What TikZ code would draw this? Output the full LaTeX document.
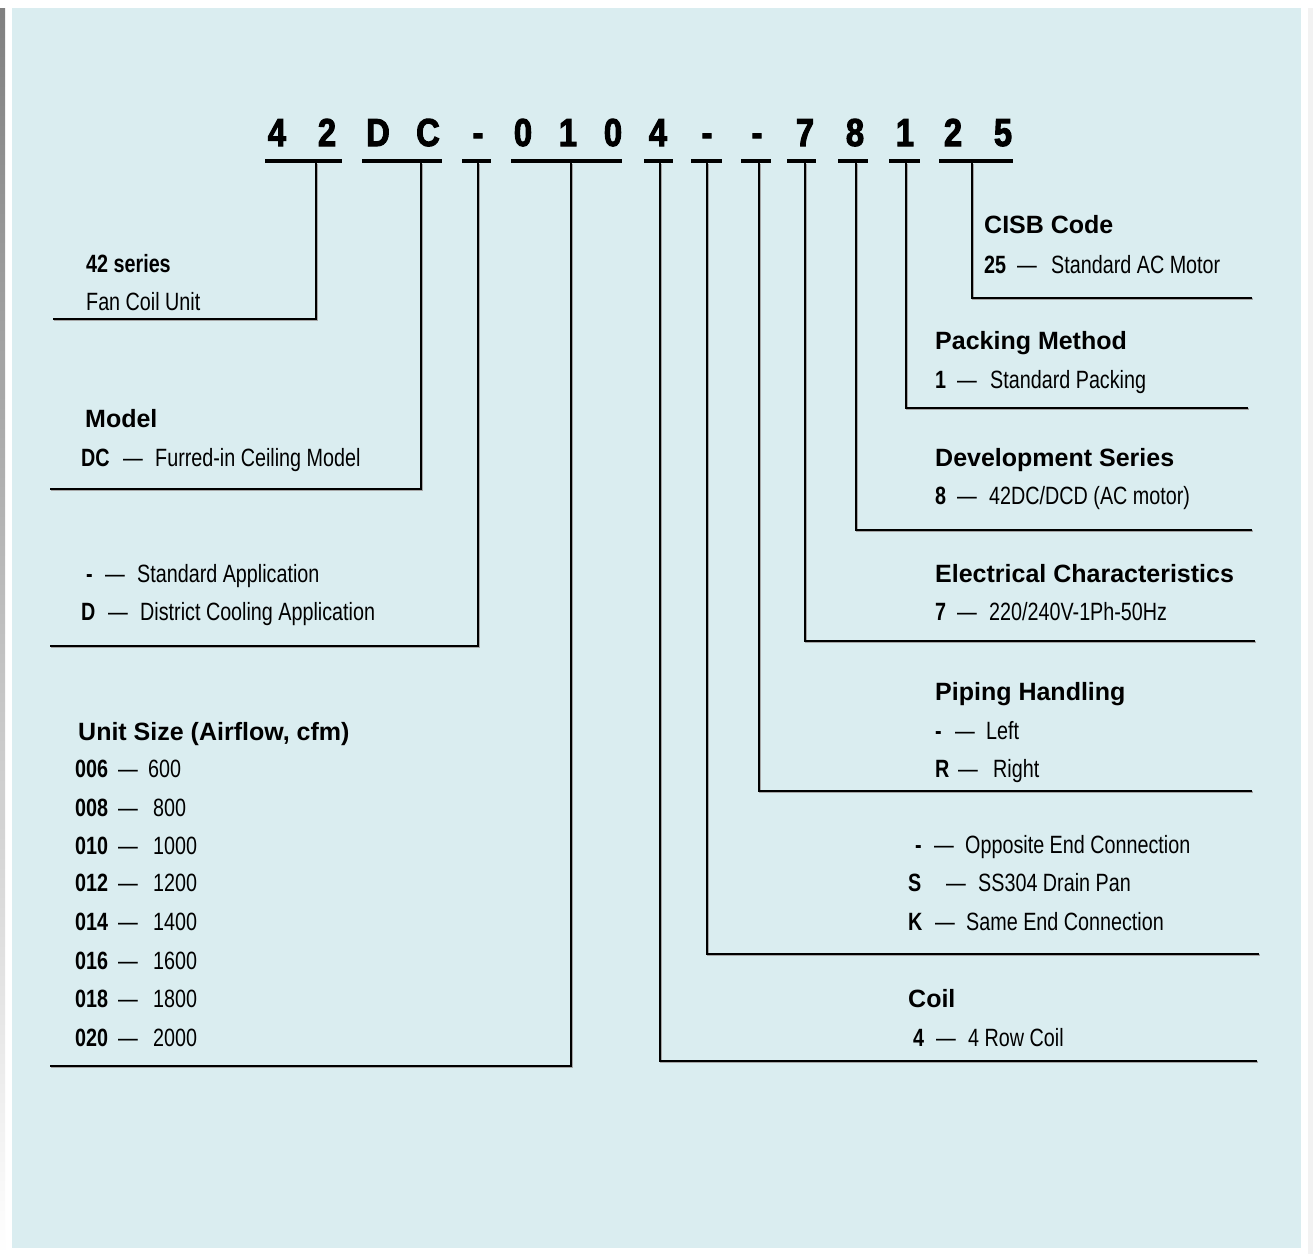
\documentclass[tikz,border=0pt]{standalone}
\usepackage{fontspec}
\setmainfont{Liberation Sans}
\newfontfamily\narrowfont[FakeStretch=0.79]{Liberation Sans}
\newfontfamily\bigcodefont[FakeStretch=0.84,FakeBold=2.6]{Liberation Sans}
\newcommand\titlef{\fontsize{25}{30}\selectfont\bfseries}
\newcommand\descf{\narrowfont\fontsize{25}{30}\selectfont}
\newcommand\codef{\narrowfont\fontsize{25}{30}\selectfont\bfseries}
\newcommand\bigf{\bigcodefont\fontsize{39}{44}\selectfont\bfseries}
\definecolor{panel}{RGB}{218,237,240}
\definecolor{shade}{RGB}{236,236,236}
\tikzset{
  ttl/.style={anchor=base west, inner sep=0pt, font=\titlef},
  dsc/.style={anchor=base west, inner sep=0pt, font=\descf},
  cde/.style={anchor=base west, inner sep=0pt, font=\codef},
  big/.style={anchor=base, inner sep=0pt, font=\bigf},
  uline/.style={line width=4pt},
  conn/.style={line width=2pt, preaction={draw=black!35, line width=2pt, transform canvas={shift={(0.8pt,-0.8pt)}}}},
}
\newcommand\entry[7]{%
  \node[cde] (#1c) at (#3,#2) {#4};
  \node[dsc] (#1d) at (#5,#2) {—};
  \node[dsc] (#1t) at (#6,#2) {#7};
}
\begin{document}
\begin{tikzpicture}[x=1pt,y=-1pt]
\useasboundingbox (0,0) rectangle (1313,1254);
\fill[white] (0,0) rectangle (1313,1254);
\fill[shade] (0,8) rectangle (5,1254);
\fill[shade!70] (1308,8) rectangle (1313,1254);
\fill[panel] (12,8) rectangle (1301,1248);

% code characters
\foreach \ch/\xx [count=\i] in {4/277,2/327,D/378,C/428,-/478,0/523,1/568,0/613,4/658,-/707,-/757,7/805,8/855,1/905,2/953,5/1003}
  \node[big] (ch\i) at (\xx,146) {\ch};

% underlines
\foreach \a/\b/\n in {265/342/1,362/442/2,462/491/3,511/622/4,644/673/5,691/722/6,741/771/7,787/816/8,838/868/9,889/920/10,939/1013/11}{
  \coordinate (ua\n) at (\a,161);
  \coordinate (ub\n) at (\b,161);
  \draw[uline] (ua\n) -- (ub\n);
}

% connector coordinates: top, corner, end
\foreach \n/\vx/\hy/\ex in {1/316/319/53,2/421/489/50,3/478/646/50,4/571/1066/50,5/660/1061/1257,6/707/954/1259,7/759/791/1252,8/805/641/1255,9/856/530/1252,10/906/408/1248,11/972/298/1252}{
  \coordinate (t\n) at (\vx,163);
  \coordinate (k\n) at (\vx,\hy);
  \coordinate (e\n) at (\ex,\hy);
}
\foreach \n in {1,...,11}
  \draw[conn] (t\n) -- (k\n) -- (e\n);

% ---- left labels
\node[cde] (s42) at (86,272) {42 series};
\node[dsc] (fcu) at (86,310) {Fan Coil Unit};

\node[ttl] (model) at (85,427) {Model};
\entry{dc}{466}{81}{DC}{123}{155}{Furred-in Ceiling Model}

\entry{appa}{582}{86}{-}{105}{137}{Standard Application}
\entry{appb}{620}{81}{D}{108}{140}{District Cooling Application}

\node[ttl] (usize) at (78,740) {Unit Size (Airflow, cfm)};
\entry{ua}{777}{75}{006}{118}{148}{600}
\entry{ub}{816}{75}{008}{118}{153}{800}
\entry{uc}{854}{75}{010}{118}{153}{1000}
\entry{ud}{891}{75}{012}{118}{153}{1200}
\entry{ue}{930}{75}{014}{118}{153}{1400}
\entry{uf}{969}{75}{016}{118}{153}{1600}
\entry{ug}{1007}{75}{018}{118}{153}{1800}
\entry{uh}{1046}{75}{020}{118}{153}{2000}

% ---- right labels
\node[ttl] (cisb) at (984,233) {CISB Code};
\entry{cb}{273}{984}{25}{1017}{1051}{Standard AC Motor}

\node[ttl] (pack) at (935,349) {Packing Method};
\entry{pk}{388}{935}{1}{957}{990}{Standard Packing}

\node[ttl] (dev) at (935,466) {Development Series};
\entry{dv}{504}{935}{8}{957}{989}{42DC/DCD (AC motor)}

\node[ttl] (elec) at (935,582) {Electrical Characteristics};
\entry{el}{620}{935}{7}{957}{989}{220/240V-1Ph-50Hz}

\node[ttl] (pipe) at (935,700) {Piping Handling};
\entry{pa}{739}{935}{-}{955}{986}{Left}
\entry{pb}{777}{935}{R}{958}{993}{Right}

\entry{oa}{853}{915}{-}{934}{965}{Opposite End Connection}
\entry{ob}{891}{908}{S}{946}{978}{SS304 Drain Pan}
\entry{oc}{930}{908}{K}{935}{966}{Same End Connection}

\node[ttl] (coil) at (908,1007) {Coil};
\entry{co}{1046}{913}{4}{936}{968}{4 Row Coil}
\end{tikzpicture}
\end{document}
